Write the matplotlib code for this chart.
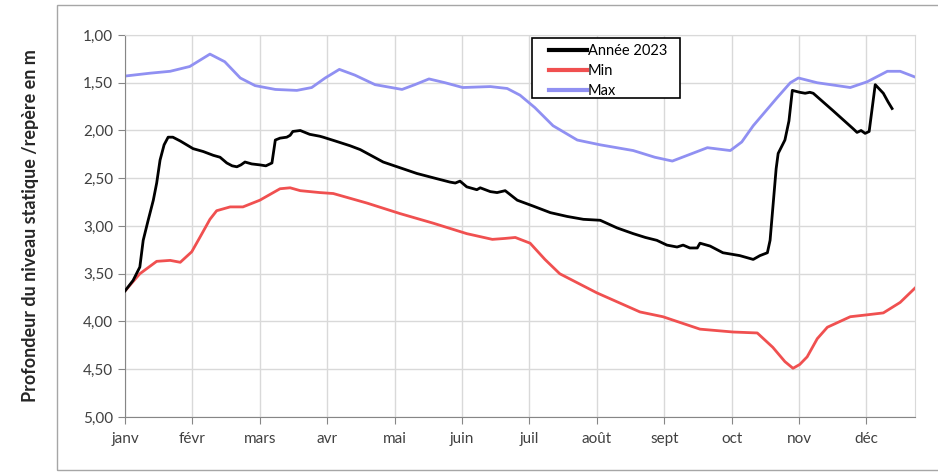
import matplotlib
matplotlib.use('Agg')
import matplotlib.pyplot as plt
from matplotlib.patches import Rectangle
from matplotlib.ticker import FuncFormatter

plt.rcParams['font.family'] = ['Lato', 'DejaVu Sans']

# x = position in months (0 = start of janv)
months = ['janv', 'févr', 'mars', 'avr', 'mai', 'juin', 'juil', 'août',
          'sept', 'oct', 'nov', 'déc']

max_x = [0.00, 0.37, 0.67, 0.96, 1.26, 1.48, 1.71, 1.93, 2.23, 2.55, 2.77, 2.97,
         3.18, 3.41, 3.71, 4.11, 4.30, 4.51, 4.75, 5.01, 5.42, 5.67, 5.86, 6.08,
         6.35, 6.71, 7.05, 7.54, 7.86, 8.12, 8.38, 8.64, 8.98, 9.15, 9.32, 9.67,
         9.87, 9.99, 10.27, 10.76, 11.01, 11.31, 11.50, 11.72]
max_y = [1.43, 1.40, 1.38, 1.33, 1.20, 1.28, 1.45, 1.53, 1.57, 1.58, 1.55, 1.45,
         1.36, 1.42, 1.52, 1.57, 1.52, 1.46, 1.50, 1.55, 1.54, 1.56, 1.63, 1.76,
         1.95, 2.10, 2.15, 2.21, 2.28, 2.32, 2.25, 2.18, 2.21, 2.12, 1.95, 1.66,
         1.50, 1.45, 1.50, 1.55, 1.49, 1.38, 1.38, 1.44]

min_x = [0.00, 0.22, 0.47, 0.67, 0.82, 0.99, 1.11, 1.26, 1.36, 1.56, 1.75, 2.00,
         2.30, 2.45, 2.60, 2.89, 3.09, 3.34, 3.59, 4.08, 4.57, 5.07, 5.45, 5.64,
         5.79, 6.01, 6.23, 6.45, 7.00, 7.64, 7.98, 8.53, 9.02, 9.38, 9.61, 9.79,
         9.91, 10.01, 10.12, 10.27, 10.42, 10.76, 11.01, 11.25, 11.50, 11.72]
min_y = [3.68, 3.50, 3.37, 3.36, 3.38, 3.27, 3.12, 2.93, 2.84, 2.80, 2.80, 2.73,
         2.61, 2.60, 2.63, 2.65, 2.66, 2.71, 2.76, 2.87, 2.97, 3.08, 3.14, 3.13,
         3.12, 3.18, 3.35, 3.50, 3.70, 3.90, 3.95, 4.08, 4.11, 4.12, 4.27, 4.42,
         4.49, 4.45, 4.37, 4.18, 4.06, 3.95, 3.93, 3.91, 3.80, 3.65]

y2023_x = [0.00, 0.12, 0.22, 0.27, 0.34, 0.42, 0.47, 0.52, 0.58, 0.64, 0.71, 0.82,
           1.01, 1.16, 1.31, 1.41, 1.51, 1.59, 1.66, 1.72, 1.78, 1.88, 2.00, 2.09,
           2.18, 2.23, 2.30, 2.40, 2.45, 2.49, 2.60, 2.67, 2.74, 2.89, 2.94, 3.12,
           3.34, 3.49, 3.83, 4.08, 4.33, 4.60, 4.82, 4.90, 4.97, 5.07, 5.12, 5.22,
           5.27, 5.42, 5.52, 5.64, 5.82, 6.05, 6.31, 6.56, 6.80, 7.05, 7.30, 7.54,
           7.72, 7.89, 8.04, 8.19, 8.28, 8.38, 8.49, 8.53, 8.68, 8.87, 9.12, 9.32,
           9.42, 9.53, 9.57, 9.60, 9.66, 9.69, 9.79, 9.85, 9.90, 10.01, 10.09, 10.16,
           10.21, 10.50, 10.80, 10.86, 10.92, 10.98, 11.04, 11.13, 11.25, 11.32, 11.38]
y2023_y = [3.68, 3.57, 3.43, 3.15, 2.95, 2.73, 2.55, 2.31, 2.15, 2.07, 2.07, 2.11,
           2.19, 2.22, 2.26, 2.28, 2.34, 2.37, 2.38, 2.36, 2.33, 2.35, 2.36, 2.37,
           2.34, 2.10, 2.08, 2.07, 2.05, 2.01, 2.00, 2.02, 2.04, 2.06, 2.07, 2.11,
           2.16, 2.20, 2.33, 2.39, 2.45, 2.50, 2.54, 2.55, 2.53, 2.59, 2.60, 2.62,
           2.60, 2.64, 2.65, 2.63, 2.73, 2.79, 2.86, 2.90, 2.93, 2.94, 3.02, 3.08,
           3.12, 3.15, 3.20, 3.22, 3.20, 3.23, 3.23, 3.18, 3.21, 3.28, 3.31, 3.35,
           3.31, 3.28, 3.15, 2.90, 2.40, 2.24, 2.10, 1.90, 1.58, 1.60, 1.61, 1.60,
           1.61, 1.79, 1.98, 2.02, 2.00, 2.03, 2.01, 1.52, 1.61, 1.70, 1.77]

W, H = 938, 473
fig = plt.figure(figsize=(W / 100, H / 100), dpi=100)
# outer chart frame
fig.patches.append(Rectangle((57 / W, 3 / H), 0.99, 465 / H, transform=fig.transFigure,
                             fill=False, edgecolor='#a6a6a6', linewidth=1))
ax = fig.add_axes([125 / W, 1 - 417 / H, 790 / W, 382 / H])

ax.plot(y2023_x, y2023_y, color='black', linewidth=2.0, label='Année 2023', zorder=3)
ax.plot(min_x, min_y, color='#f05050', linewidth=2.0, label='Min')
ax.plot(max_x, max_y, color='#9090f2', linewidth=2.0, label='Max')

ax.set_xlim(0, 11.72)
ax.set_ylim(5, 1)
ax.set_xticks(range(12))
ax.set_xticklabels(months)
ax.set_yticks([1, 1.5, 2, 2.5, 3, 3.5, 4, 4.5, 5])
ax.yaxis.set_major_formatter(FuncFormatter(lambda v, p: f'{v:.2f}'.replace('.', ',')))
ax.grid(True, color='#d9d9d9', linewidth=1)
ax.set_axisbelow(True)
for s in ['top', 'right']:
    ax.spines[s].set_color('#d9d9d9')
for s in ['left', 'bottom']:
    ax.spines[s].set_color('#868686')
ax.tick_params(colors='#868686', labelcolor='#404040', labelsize=11, length=5)
ax.tick_params(axis='x', pad=6)

ax.set_ylabel('Profondeur du niveau statique /repère en m', fontsize=13,
              fontweight='bold', color='#262626', labelpad=32)

# legend box drawn separately (Excel-style fixed size)
fig.patches.append(Rectangle((532 / W, 1 - 98 / H), 148 / W, 60 / H, transform=fig.transFigure,
                             facecolor='white', edgecolor='black', linewidth=1.2, zorder=4))
leg = fig.legend(loc='upper left', bbox_to_anchor=(542 / W, 1 - 37 / H),
                 frameon=False, fontsize=10.5, handlelength=2.6,
                 handletextpad=0.05, borderpad=0, labelspacing=0.4)
leg.set_zorder(5)
for line in leg.get_lines():
    line.set_linewidth(3)

fig.savefig('out.png', dpi=100)
